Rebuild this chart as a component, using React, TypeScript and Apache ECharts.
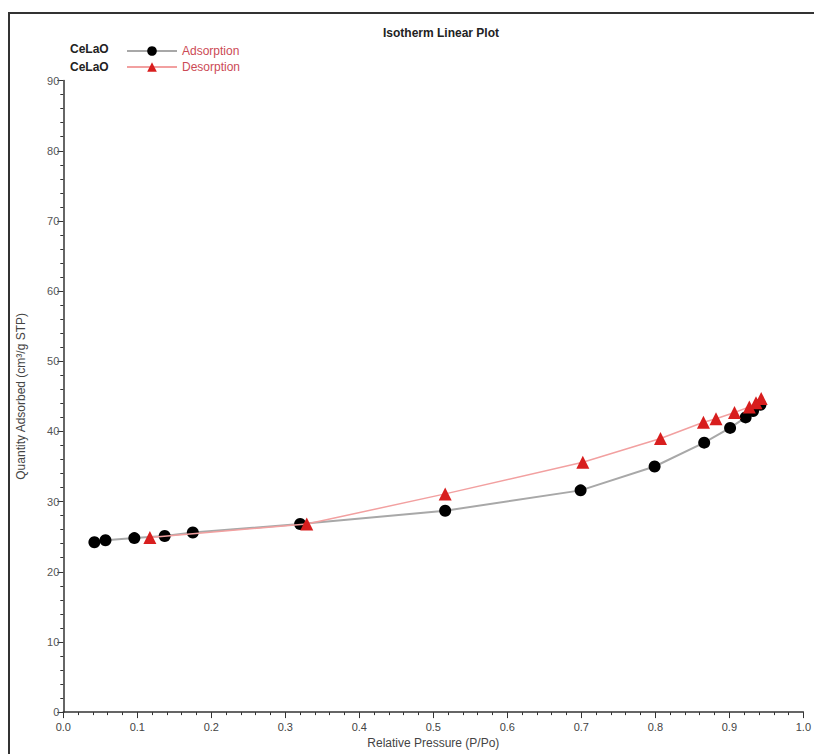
import React, { useEffect, useRef } from "react";
import * as echarts from "echarts";

const seriesName = "CeLaO";
const adsorptionLabel = "Adsorption";
const desorptionLabel = "Desorption";

const adsorptionX = [0.042, 0.057, 0.096, 0.137, 0.175, 0.320, 0.516, 0.699, 0.799, 0.866, 0.901, 0.922, 0.932, 0.942];
const adsorptionY = [24.2, 24.5, 24.8, 25.1, 25.6, 26.8, 28.7, 31.6, 35.0, 38.4, 40.5, 42.0, 42.9, 43.8];

const desorptionX = [0.943, 0.936, 0.927, 0.907, 0.882, 0.865, 0.807, 0.702, 0.516, 0.329, 0.117];
const desorptionY = [44.7, 44.1, 43.5, 42.7, 41.8, 41.3, 39.0, 35.6, 31.1, 26.8, 24.9];

const FONT = "'Liberation Sans', Arial, sans-serif";

export default function App() {
  const ref = useRef<HTMLDivElement>(null);
  useEffect(() => {
    if (!ref.current) return;
    document.documentElement.style.overflow = "hidden";
    document.body.style.overflow = "hidden";
    document.body.style.margin = "0";
    const chart = echarts.init(ref.current, null, { renderer: "svg", width: 814, height: 754 });
    const ads = adsorptionX.map((x, i) => [x, adsorptionY[i]]);
    const des = desorptionX.map((x, i) => [x, desorptionY[i]]);
    chart.setOption({
      animation: false,
      backgroundColor: "#ffffff",
      textStyle: { fontFamily: FONT },
      title: {
        text: "Isotherm Linear Plot",
        left: 436,
        textAlign: "center",
        top: 22,
        textStyle: { fontSize: 12, fontWeight: "bold", color: "#222", fontFamily: FONT },
      },
      legend: {
        orient: "vertical",
        left: 126,
        top: 45,
        padding: 0,
        itemWidth: 50,
        itemHeight: 12,
        itemGap: 4,
        data: [adsorptionLabel, desorptionLabel],
        textStyle: { color: "#cc4a55", fontSize: 12, fontFamily: FONT, padding: [5, 0, 0, 0] },
      },
      graphic: [
        {
          type: "rect",
          shape: { x: 8, y: 12, width: 2, height: 742 },
          style: { fill: "#333" },
          silent: true,
          z: -1,
        },
        {
          type: "rect",
          shape: { x: 8, y: 12, width: 806, height: 2 },
          style: { fill: "#333" },
          silent: true,
          z: -1,
        },
        {
          type: "text",
          left: 70,
          top: 43,
          style: { text: seriesName, font: "bold 12px " + FONT, fill: "#222" },
        },
        {
          type: "text",
          left: 70,
          top: 61,
          style: { text: seriesName, font: "bold 12px " + FONT, fill: "#222" },
        },
      ],
      grid: { left: 63.3, right: 3, top: 80.6, bottom: 37.4, containLabel: false },
      xAxis: {
        type: "value",
        min: 0,
        max: 1,
        interval: 0.1,
        name: "Relative Pressure (P/Po)",
        nameLocation: "middle",
        nameGap: 24,
        nameTextStyle: { fontSize: 12, color: "#444", fontFamily: FONT },
        axisLine: { show: true, lineStyle: { color: "#333", width: 1.5 } },
        axisTick: { show: true, length: 6, lineStyle: { color: "#333" } },
        minorTick: { show: true, splitNumber: 5, length: 3, lineStyle: { color: "#333" } },
        axisLabel: {
          fontSize: 11,
          color: "#444",
          margin: 9,
          formatter: (v: number) => v.toFixed(1),
        },
        splitLine: { show: false },
      },
      yAxis: {
        type: "value",
        min: 0,
        max: 90,
        interval: 10,
        name: "Quantity Adsorbed (cm³/g STP)",
        nameLocation: "middle",
        nameGap: 36,
        nameTextStyle: { fontSize: 12, color: "#444", fontFamily: FONT },
        axisLine: { show: true, lineStyle: { color: "#333", width: 1.5 } },
        axisTick: { show: true, length: 6, lineStyle: { color: "#333" } },
        minorTick: { show: true, splitNumber: 5, length: 3, lineStyle: { color: "#333" } },
        axisLabel: { fontSize: 11, color: "#555", margin: 4 },
        splitLine: { show: false },
      },
      series: [
        {
          name: adsorptionLabel,
          type: "line",
          data: ads,
          symbol: "circle",
          symbolSize: 12,
          itemStyle: { color: "#000" },
          lineStyle: { color: "#a8a8a8", width: 2 },
          z: 3,
        },
        {
          name: desorptionLabel,
          type: "line",
          data: des,
          symbol: "triangle",
          symbolSize: 13,
          itemStyle: { color: "#d81e1e" },
          lineStyle: { color: "#f2a0a0", width: 1.5 },
          z: 4,
        },
      ],
    });
    return () => chart.dispose();
  }, []);
  return (
    <div
      ref={ref}
      style={{ position: "absolute", left: 0, top: 0, width: 814, height: 754, overflow: "hidden" }}
    />
  );
}
